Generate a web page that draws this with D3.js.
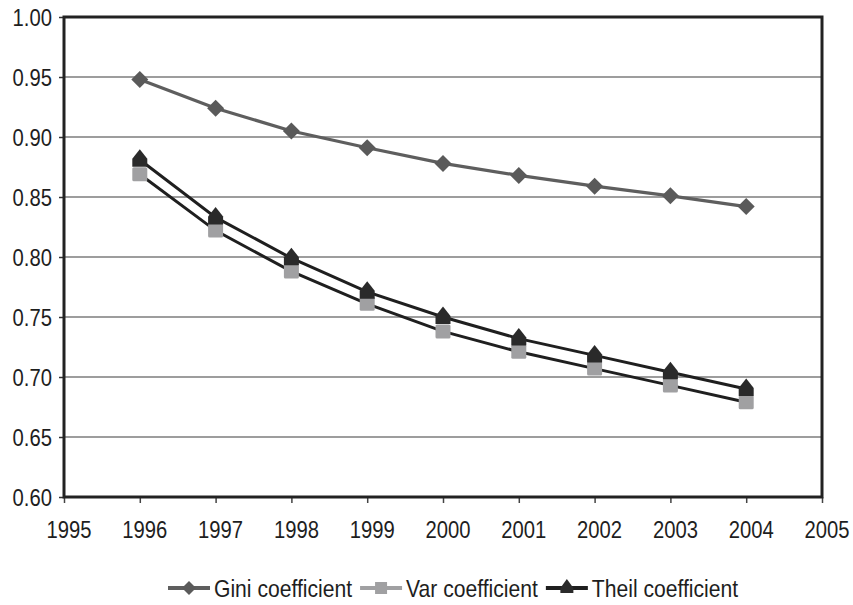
<!DOCTYPE html>
<html>
<head>
<meta charset="utf-8">
<script src="https://cdn.jsdelivr.net/npm/d3@7"></script>
<style>
  body { margin: 0; background: #fff; }
  text { font-family: "Liberation Sans", Arial, sans-serif; fill: #1e1e1e; }
</style>
</head>
<body>
<div id="chart"></div>
<script>
// data
var years = [1996, 1997, 1998, 1999, 2000, 2001, 2002, 2003, 2004];
var gini  = [0.948, 0.924, 0.905, 0.891, 0.878, 0.868, 0.859, 0.851, 0.842];
var varc  = [0.869, 0.822, 0.788, 0.761, 0.738, 0.721, 0.707, 0.693, 0.679];
var theil = [0.881, 0.833, 0.799, 0.771, 0.750, 0.732, 0.718, 0.704, 0.690];
var xTicks = [1995, 1996, 1997, 1998, 1999, 2000, 2001, 2002, 2003, 2004, 2005];
var yTicks = [0.60, 0.65, 0.70, 0.75, 0.80, 0.85, 0.90, 0.95, 1.00];
var seriesNames = ["Gini coefficient", "Var coefficient", "Theil coefficient"];

var W = 853, H = 605;
var fontSize = 23, sx = 0.88;   // text in the picture is a bit narrow

var svg = d3.select("#chart").append("svg")
  .attr("width", W).attr("height", H);

var x = d3.scaleLinear().domain([1995, 2005]).range([64, 822]);
var y = d3.scaleLinear().domain([0.60, 1.00]).range([497, 17]);

// gridlines
svg.append("g")
  .selectAll("line")
  .data(yTicks.slice(1, -1))
  .enter().append("line")
    .attr("x1", x(1995)).attr("x2", x(2005))
    .attr("y1", function(d){ return y(d); })
    .attr("y2", function(d){ return y(d); })
    .attr("stroke", "#7c7c7c")
    .attr("stroke-width", 1.5);

// y axis
var yAxis = svg.append("g")
  .attr("transform", "translate(" + x(1995) + ",0)")
  .call(d3.axisLeft(y).tickValues(yTicks).tickSize(5).tickFormat(d3.format(".2f")));
yAxis.select(".domain").remove();
yAxis.selectAll("line").attr("stroke", "#333").attr("stroke-width", 1.5);
yAxis.selectAll("text")
  .attr("x", -12 / sx).attr("y", 8).attr("dy", null)
  .attr("transform", "scale(" + sx + ",1)")
  .style("font-size", fontSize + "px")
  .style("font-family", "Liberation Sans, Arial, sans-serif")
  .attr("fill", "#1e1e1e");

// x axis
var xAxis = svg.append("g")
  .attr("transform", "translate(0," + y(0.60) + ")")
  .call(d3.axisBottom(x).tickValues(xTicks).tickSize(6).tickFormat(d3.format("d")));
xAxis.select(".domain").remove();
xAxis.selectAll("line").attr("stroke", "#444").attr("stroke-width", 1.5);
xAxis.selectAll("text")
  .attr("x", 4.5 / sx).attr("y", 41).attr("dy", null)
  .attr("transform", "scale(" + sx + ",1)")
  .style("font-size", fontSize + "px")
  .style("font-family", "Liberation Sans, Arial, sans-serif")
  .attr("fill", "#1e1e1e");

// plot frame
svg.append("rect")
  .attr("x", x(1995)).attr("y", y(1.00))
  .attr("width", x(2005) - x(1995))
  .attr("height", y(0.60) - y(1.00))
  .attr("fill", "none")
  .attr("stroke", "#222")
  .attr("stroke-width", 3);

// marker shapes
function diamondPath(r){ return "M0," + (-r) + "L" + r + ",0L0," + r + "L" + (-r) + ",0Z"; }
function housePath(w, top, mid, bot){
  return "M0," + (-top) + "L" + w + "," + (-mid) + "L" + w + "," + bot +
         "L" + (-w) + "," + bot + "L" + (-w) + "," + (-mid) + "Z";
}

var line = d3.line()
  .x(function(d){ return x(d[0]); })
  .y(function(d){ return y(d[1]); });

function pairs(vals){ return years.map(function(yr, i){ return [yr, vals[i]]; }); }

// Gini
svg.append("path")
  .attr("d", line(pairs(gini)))
  .attr("fill", "none").attr("stroke", "#5e5e5e").attr("stroke-width", 3.2);
// Var
svg.append("path")
  .attr("d", line(pairs(varc)))
  .attr("fill", "none").attr("stroke", "#1f1f1f").attr("stroke-width", 3);
// Theil
svg.append("path")
  .attr("d", line(pairs(theil)))
  .attr("fill", "none").attr("stroke", "#1f1f1f").attr("stroke-width", 3);

svg.append("g").selectAll("path")
  .data(pairs(gini)).enter().append("path")
    .attr("d", diamondPath(8.5))
    .attr("transform", function(d){ return "translate(" + x(d[0]) + "," + y(d[1]) + ")"; })
    .attr("fill", "#5a5a5a");

svg.append("g").selectAll("rect")
  .data(pairs(varc)).enter().append("rect")
    .attr("x", function(d){ return x(d[0]) - 7.5; })
    .attr("y", function(d){ return y(d[1]) - 7; })
    .attr("width", 15).attr("height", 14)
    .attr("rx", 1.5)
    .attr("fill", "#a0a0a2");

svg.append("g").selectAll("path")
  .data(pairs(theil)).enter().append("path")
    .attr("d", housePath(7.5, 10.5, 1, 7))
    .attr("transform", function(d){ return "translate(" + x(d[0]) + "," + y(d[1]) + ")"; })
    .attr("fill", "#2a2a2a");

// legend
var legendY = 588;
var legendFont = 24;
var legendStyles = [
  { stroke: "#5e5e5e", marker: "diamond", fill: "#5a5a5a" },
  { stroke: "#a0a0a2", marker: "square", fill: "#a0a0a2" },
  { stroke: "#1f1f1f", marker: "triangle", fill: "#2a2a2a" }
];
var lx = 168;
seriesNames.forEach(function(name, i){
  var st = legendStyles[i];
  var g = svg.append("g");
  g.append("line")
    .attr("x1", lx).attr("x2", lx + 42)
    .attr("y1", legendY).attr("y2", legendY)
    .attr("stroke", st.stroke).attr("stroke-width", 4);
  var mx = lx + 21;
  if (st.marker == "diamond") {
    g.append("path").attr("d", diamondPath(7))
      .attr("transform", "translate(" + mx + "," + legendY + ")").attr("fill", st.fill);
  } else if (st.marker == "square") {
    g.append("rect").attr("x", mx - 6).attr("y", legendY - 6)
      .attr("width", 12).attr("height", 12).attr("fill", st.fill);
  } else {
    g.append("path").attr("d", housePath(6.5, 9, 0, 5))
      .attr("transform", "translate(" + mx + "," + legendY + ")").attr("fill", st.fill);
  }
  var t = g.append("g")
    .attr("transform", "translate(" + (lx + 46) + "," + (legendY + 9) + ") scale(" + sx + ",1)")
    .append("text")
      .style("font-size", legendFont + "px")
      .text(name);
  var w = t.node().getComputedTextLength() * sx;
  lx = lx + 46 + w + 8;
});
</script>
</body>
</html>
